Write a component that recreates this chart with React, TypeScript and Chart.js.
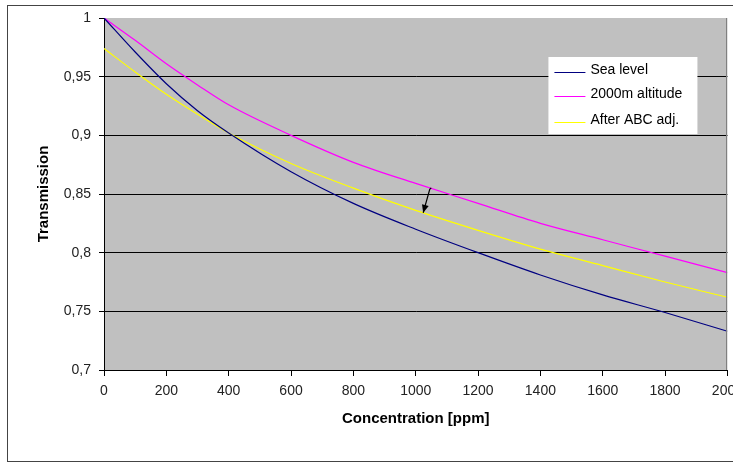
import React, { useEffect, useRef } from "react";
import { Chart, registerables } from "chart.js";

Chart.register(...registerables);

const concentration = [0, 100, 200, 300, 400, 600, 800, 1000, 1200, 1400, 1600, 1800, 2000];
const seaLevel = [1, 0.971, 0.944, 0.921, 0.902, 0.869, 0.842, 0.82, 0.8, 0.781, 0.764, 0.749, 0.733];
const altitude2000 = [1, 0.981, 0.961, 0.943, 0.926, 0.9, 0.877, 0.859, 0.842, 0.825, 0.811, 0.797, 0.783];
const afterABC = [0.974, 0.954, 0.935, 0.918, 0.902, 0.876, 0.855, 0.836, 0.819, 0.803, 0.789, 0.775, 0.762];

const seriesLabels = ["Sea level", "2000m altitude", "After ABC adj."];
const seriesColors = ["#000080", "#FF00FF", "#FFFF00"];

// arrow annotation: [x, y] start and end in data units
const arrowStart = [1045, 0.854];
const arrowEnd = [1024, 0.834];

const FONT = "'Liberation Sans', Arial, sans-serif";

const bgPlugin = {
  id: "plotBg",
  beforeDraw(chart: any) {
    const { ctx, chartArea: a } = chart;
    ctx.save();
    ctx.fillStyle = "#C0C0C0";
    ctx.fillRect(a.left, a.top, a.right - a.left, a.bottom - a.top);
    ctx.restore();
  },
  afterDraw(chart: any) {
    const { ctx, chartArea: a, scales } = chart;
    ctx.save();
    ctx.strokeStyle = "#808080";
    ctx.lineWidth = 1;
    ctx.beginPath();
    ctx.moveTo(Math.round(a.right) - 0.5, a.top);
    ctx.lineTo(Math.round(a.right) - 0.5, a.bottom);
    ctx.stroke();

    // arrow
    const x1 = scales.x.getPixelForValue(arrowStart[0]);
    const y1 = scales.y.getPixelForValue(arrowStart[1]);
    const x2 = scales.x.getPixelForValue(arrowEnd[0]);
    const y2 = scales.y.getPixelForValue(arrowEnd[1]);
    ctx.strokeStyle = "#000";
    ctx.fillStyle = "#000";
    ctx.lineWidth = 1.2;
    ctx.beginPath();
    ctx.moveTo(x1 + 1.5, y1 - 1.5);
    ctx.lineTo(x1, y1);
    ctx.lineTo(x2, y2);
    ctx.stroke();
    const ang = Math.atan2(y2 - y1, x2 - x1);
    const hl = 8, hw = 3.5;
    ctx.beginPath();
    ctx.moveTo(x2, y2);
    ctx.lineTo(x2 - hl * Math.cos(ang) + hw * Math.sin(ang), y2 - hl * Math.sin(ang) - hw * Math.cos(ang));
    ctx.lineTo(x2 - hl * Math.cos(ang) - hw * Math.sin(ang), y2 - hl * Math.sin(ang) + hw * Math.cos(ang));
    ctx.closePath();
    ctx.fill();

    // legend
    const bx = a.right - 179;
    const by = a.top + 39;
    ctx.fillStyle = "#FFFFFF";
    ctx.fillRect(bx, by, 149, 77);
    const rows = [15, 39, 65];
    ctx.font = `14px ${FONT}`;
    ctx.textBaseline = "middle";
    ctx.textAlign = "left";
    seriesLabels.forEach((lab, i) => {
      const yy = by + rows[i];
      ctx.strokeStyle = seriesColors[i];
      ctx.lineWidth = 1;
      ctx.beginPath();
      ctx.moveTo(bx + 6, yy + 0.5);
      ctx.lineTo(bx + 37, yy + 0.5);
      ctx.stroke();
      ctx.fillStyle = "#000";
      ctx.fillText(lab, bx + 42, yy - 2);
    });
    ctx.restore();
  },
};

export default function App() {
  const ref = useRef<HTMLCanvasElement>(null);
  useEffect(() => {
    if (!ref.current) return;
    const series = [seaLevel, altitude2000, afterABC];
    const chart = new Chart(ref.current, {
      type: "line",
      data: {
        datasets: series.map((vals, i) => ({
          label: seriesLabels[i],
          data: concentration.map((c, j) => ({ x: c, y: vals[j] })),
          borderColor: seriesColors[i],
          borderWidth: 1.2,
          pointRadius: 0,
          fill: false,
          cubicInterpolationMode: "monotone" as const,
        })),
      },
      options: {
        animation: false,
        responsive: false,
        devicePixelRatio: 1,
        layout: { padding: { left: 0, top: 18, right: 22, bottom: 0 } },
        plugins: { legend: { display: false }, tooltip: { enabled: false } },
        scales: {
          x: {
            type: "linear",
            min: 0,
            max: 2000,
            afterFit(scale: any) {
              scale.height = 97;
            },
            ticks: {
              stepSize: 200,
              color: "#222",
              padding: 7,
              maxRotation: 0,
              font: { family: FONT, size: 14 },
              callback: (v: any) => String(v),
            },
            grid: { drawOnChartArea: false, tickColor: "#000", tickLength: 6, color: "#000" },
            border: { color: "#000", width: 1 },
            title: {
              display: true,
              text: "Concentration [ppm]",
              color: "#000",
              font: { family: FONT, size: 15, weight: "bold" },
              padding: { top: 0, bottom: 39 },
            },
          },
          y: {
            min: 0.7,
            max: 1,
            afterFit(scale: any) {
              scale.width = 104;
            },
            ticks: {
              stepSize: 0.05,
              color: "#222",
              padding: 8,
              font: { family: FONT, size: 14 },
              callback: (v: any) => String(Number(Number(v).toFixed(2))).replace(".", ","),
            },
            grid: {
              color: (ctx: any) => (ctx.tick && Math.abs(ctx.tick.value - 1) < 1e-6 ? "rgba(0,0,0,0)" : "#000"),
              tickColor: "#000",
              tickLength: 5,
              lineWidth: 1,
            },
            border: { color: "#000", width: 1 },
            title: {
              display: true,
              text: "Transmission",
              color: "#000",
              font: { family: FONT, size: 15, weight: "bold" },
              padding: { top: 35, bottom: 0 },
            },
          },
        },
      },
      plugins: [bgPlugin],
    });
    return () => chart.destroy();
  }, []);

  return (
    <div style={{ position: "absolute", left: 0, top: 0, width: 733, height: 467, overflow: "hidden", background: "#fff" }}>
      <div style={{ position: "absolute", left: 7, top: 5, width: 780, height: 455, border: "1px solid #444" }} />
      <canvas ref={ref} width={750} height={467} style={{ position: "absolute", left: 0, top: 0 }} />
    </div>
  );
}
